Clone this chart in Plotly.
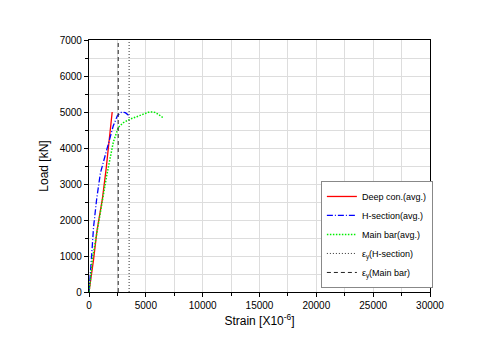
import plotly.graph_objects as go

# Data
deep_strain = [0, 150, 400, 700, 1170, 1500, 1800, 2040]
deep_load = [0, 300, 900, 1700, 2570, 3400, 4250, 5000]

h_strain = [0, 80, 230, 400, 670, 1000, 1550, 2130, 2500, 2870, 3200, 3540]
h_load = [0, 450, 1000, 1800, 2570, 3300, 3960, 4610, 4900, 5000, 4980, 4890]

m_strain = [0, 100, 290, 600, 960, 1550, 2130, 2570, 3000, 3600, 4200, 4770, 5200, 5500, 5800, 6080, 6300, 6520]
m_load = [0, 250, 900, 1500, 2110, 3220, 4150, 4570, 4700, 4800, 4870, 4940, 4990, 5000, 4990, 4940, 4890, 4840]

ey_h = 3530
ey_m = 2570
load_range = [0, 7000]

FONT = "Liberation Sans, Arial"

fig = go.Figure()
fig.add_trace(go.Scatter(x=deep_strain, y=deep_load, mode="lines", name="Deep con.(avg.)",
                         line=dict(color="red", width=1.3)))
fig.add_trace(go.Scatter(x=h_strain, y=h_load, mode="lines", name="H-section(avg.)",
                         line=dict(color="blue", width=1.3, dash="6px,2px,1px,2px")))
fig.add_trace(go.Scatter(x=m_strain, y=m_load, mode="lines", name="Main bar(avg.)",
                         line=dict(color="#00ee00", width=1.5, dash="1.5px,1.5px")))
fig.add_trace(go.Scatter(x=[ey_h, ey_h], y=load_range, mode="lines", name="ε<sub>y</sub>(H-section)",
                         line=dict(color="#333333", width=1, dash="1px,2px")))
fig.add_trace(go.Scatter(x=[ey_m, ey_m], y=load_range, mode="lines", name="ε<sub>y</sub>(Main bar)",
                         line=dict(color="#222222", width=1, dash="4px,3px")))

axis_common = dict(
    showline=True, linecolor="black", linewidth=1.2, mirror=True,
    ticks="outside", ticklen=4, tickcolor="black",
    showgrid=True, gridcolor="#dddddd", gridwidth=1,
    zeroline=False, automargin=False, tickformat="d",
    tickfont=dict(family=FONT, size=10, color="black"),
)

fig.update_xaxes(range=[0, 30000], dtick=5000, **axis_common,
                 minor=dict(dtick=2500, ticks="outside", ticklen=3, tickcolor="black",
                            showgrid=True, gridcolor="#dddddd"),
                 title=dict(text="Strain [X10<sup>-6</sup>]", standoff=6,
                            font=dict(family=FONT, size=12, color="black")))
fig.update_yaxes(range=[0, 7000], dtick=1000, **axis_common,
                 minor=dict(dtick=500, ticks="outside", ticklen=3, tickcolor="black",
                            showgrid=True, gridcolor="#dddddd"),
                 title=dict(text="Load [kN]", standoff=8,
                            font=dict(family=FONT, size=12, color="black")))

# The page body adds an 8px margin, so the figure is sized and offset to compensate.
fig.update_layout(
    width=492, height=343,
    margin=dict(l=81, r=70, t=32, b=59),
    paper_bgcolor="white", plot_bgcolor="white",
    showlegend=True,
    legend=dict(x=0.68, y=0.016, xanchor="left", yanchor="bottom",
                bgcolor="white", bordercolor="#888888", borderwidth=1,
                font=dict(family=FONT, size=9, color="black"),
                tracegroupgap=0, itemwidth=30),
    font=dict(family=FONT),
)

fig.write_html("out.html")
